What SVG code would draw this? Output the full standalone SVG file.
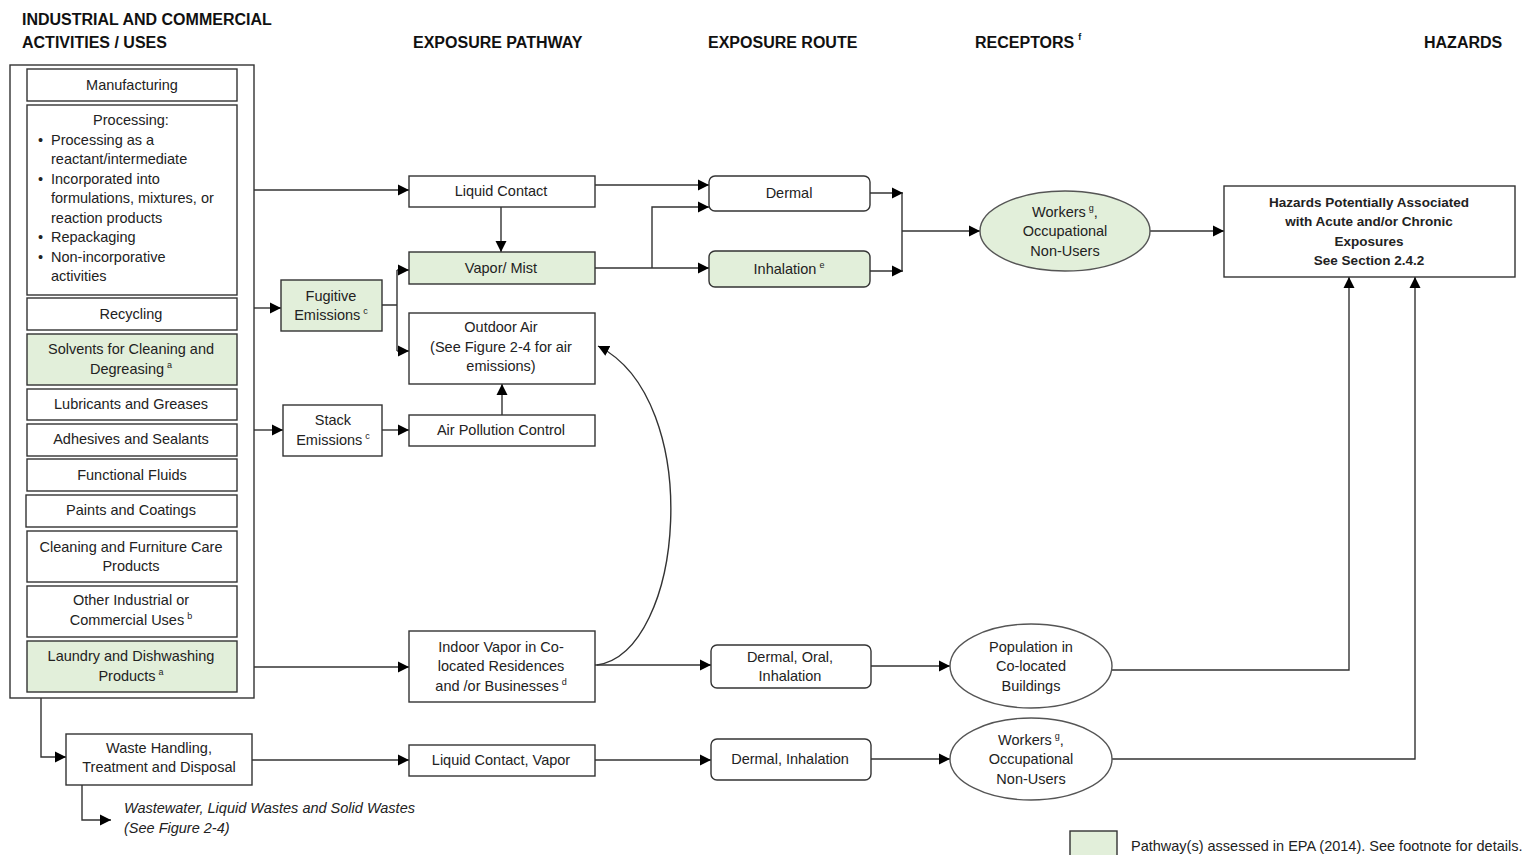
<svg xmlns="http://www.w3.org/2000/svg" width="1526" height="855" viewBox="0 0 1526 855">
<style>
text{font-family:"Liberation Sans",Arial,sans-serif;fill:#222;font-size:14.5px}
.h{font-weight:bold;font-size:16px;fill:#111}
.c{text-anchor:middle}
.b{fill:#fff;stroke:#333;stroke-width:1.4}
.g{fill:#e2efda;stroke:#333;stroke-width:1.4}
.e{fill:#fff;stroke:#555;stroke-width:1.4}
.eg{fill:#e2efda;stroke:#555;stroke-width:1.4}
.sup{font-size:9px}
.hz{font-weight:bold;font-size:13.5px}
.it{font-style:italic}
#conn path{fill:none;stroke:#333;stroke-width:1.4}
#conn path.a{marker-end:url(#arr)}
</style>
<defs>
<marker id="arr" viewBox="0 0 10 10" refX="10" refY="5" markerWidth="11" markerHeight="13" markerUnits="userSpaceOnUse" orient="auto">
<path d="M0,0 L10,5 L0,10 z" fill="#000"/>
</marker>
</defs>
<rect width="1526" height="855" fill="#fff"/>

<g id="headings">
<text class="h" x="22" y="25">INDUSTRIAL AND COMMERCIAL</text>
<text class="h" x="22" y="48">ACTIVITIES / USES</text>
<text class="h" x="413" y="48">EXPOSURE PATHWAY</text>
<text class="h" x="708" y="48">EXPOSURE ROUTE</text>
<text class="h" x="975" y="48">RECEPTORS<tspan class="sup" dx="4" dy="-8">f</tspan></text>
<text class="h" x="1424" y="48">HAZARDS</text>
</g>

<g id="conn">
<path class="a" d="M254,190 H409"/>
<path class="a" d="M254,308 H281"/>
<path class="a" d="M254,430 H283"/>
<path class="a" d="M237,667 H409"/>
<path d="M382,305 H397 M397,270 V351"/>
<path class="a" d="M397,270 H409"/>
<path class="a" d="M397,351 H409"/>
<path class="a" d="M382,430 H409"/>
<path class="a" d="M501,207 V252"/>
<path class="a" d="M502,415 V384"/>
<path class="a" d="M595,185 H709"/>
<path class="a" d="M595,268 H709"/>
<path class="a" d="M652,268 V207 H709"/>
<path class="a" d="M870,193 H903"/>
<path class="a" d="M870,271 H903"/>
<path d="M902,193 V271"/>
<path class="a" d="M902,231 H980"/>
<path class="a" d="M1150,231 H1224"/>
<path class="a" d="M595,665 H711"/>
<path class="a" d="M597,665 C685,652 705,400 598,346"/>
<path class="a" d="M871,666 H950"/>
<path class="a" d="M1112,670 H1349 V277"/>
<path class="a" d="M595,760 H711"/>
<path class="a" d="M871,759 H950"/>
<path class="a" d="M1112,759 H1415 V277"/>
<path class="a" d="M41,698 V757 H66"/>
<path class="a" d="M252,760 H409"/>
<path class="a" d="M82,785 V820 H111"/>
</g>

<g id="uses-container"><rect class="b" x="10" y="65" width="244" height="633"/></g>

<g id="manufacturing"><rect class="b" x="27" y="69" width="210" height="32"/><text class="c" x="132" y="90">Manufacturing</text></g>
<g id="processing"><rect class="b" x="27" y="105" width="210" height="190"/>
<text class="c" x="131" y="125">Processing:</text>
<text x="38" y="145">•</text><text x="51" y="145">Processing as a</text>
<text x="51" y="164">reactant/intermediate</text>
<text x="38" y="184">•</text><text x="51" y="184">Incorporated into</text>
<text x="51" y="203">formulations, mixtures, or</text>
<text x="51" y="223">reaction products</text>
<text x="38" y="242">•</text><text x="51" y="242">Repackaging</text>
<text x="38" y="262">•</text><text x="51" y="262">Non-incorporative</text>
<text x="51" y="281">activities</text>
</g>
<g id="recycling"><rect class="b" x="27" y="298" width="210" height="32"/><text class="c" x="131" y="319">Recycling</text></g>
<g id="solvents"><rect class="g" x="27" y="334" width="210" height="51"/><text class="c" x="131" y="354">Solvents for Cleaning and</text><text class="c" x="131" y="374">Degreasing<tspan class="sup" dx="3" dy="-6">a</tspan></text></g>
<g id="lubricants"><rect class="b" x="27" y="389" width="210" height="31"/><text class="c" x="131" y="409">Lubricants and Greases</text></g>
<g id="adhesives"><rect class="b" x="27" y="424" width="210" height="32"/><text class="c" x="131" y="444">Adhesives and Sealants</text></g>
<g id="fluids"><rect class="b" x="27" y="459" width="210" height="32"/><text class="c" x="132" y="480">Functional Fluids</text></g>
<g id="paints"><rect class="b" x="26" y="495" width="211" height="32"/><text class="c" x="131" y="515">Paints and Coatings</text></g>
<g id="cleaning"><rect class="b" x="27" y="531" width="210" height="51"/><text class="c" x="131" y="552">Cleaning and Furniture Care</text><text class="c" x="131" y="571">Products</text></g>
<g id="other"><rect class="b" x="27" y="586" width="210" height="51"/><text class="c" x="131" y="605">Other Industrial or</text><text class="c" x="131" y="625">Commercial Uses<tspan class="sup" dx="3" dy="-6">b</tspan></text></g>
<g id="laundry"><rect class="g" x="27" y="641" width="210" height="51"/><text class="c" x="131" y="661">Laundry and Dishwashing</text><text class="c" x="131" y="681">Products<tspan class="sup" dx="3" dy="-6">a</tspan></text></g>

<g id="fugitive"><rect class="g" x="281" y="280" width="101" height="51"/><text class="c" x="331" y="301">Fugitive</text><text class="c" x="331" y="320">Emissions<tspan class="sup" dx="3" dy="-6">c</tspan></text></g>
<g id="stack"><rect class="b" x="283" y="405" width="99" height="51"/><text class="c" x="333" y="425">Stack</text><text class="c" x="333" y="445">Emissions<tspan class="sup" dx="3" dy="-6">c</tspan></text></g>

<g id="liquid-contact"><rect class="b" x="409" y="176" width="186" height="31"/><text class="c" x="501" y="196">Liquid Contact</text></g>
<g id="vapor-mist"><rect class="g" x="409" y="252" width="186" height="32"/><text class="c" x="501" y="273">Vapor/ Mist</text></g>
<g id="outdoor-air"><rect class="b" x="409" y="313" width="186" height="71"/><text class="c" x="501" y="332">Outdoor Air</text><text class="c" x="501" y="352">(See Figure 2-4 for air</text><text class="c" x="501" y="371">emissions)</text></g>
<g id="apc"><rect class="b" x="409" y="415" width="186" height="31"/><text class="c" x="501" y="435">Air Pollution Control</text></g>
<g id="indoor-vapor"><rect class="b" x="409" y="631" width="186" height="71"/><text class="c" x="501" y="652">Indoor Vapor in Co-</text><text class="c" x="501" y="671">located Residences</text><text class="c" x="501" y="691">and /or Businesses<tspan class="sup" dx="3" dy="-6">d</tspan></text></g>
<g id="liquid-vapor"><rect class="b" x="409" y="745" width="186" height="31"/><text class="c" x="501" y="765">Liquid Contact, Vapor</text></g>

<g id="dermal"><rect class="b" x="709" y="176" width="161" height="35" rx="6"/><text class="c" x="789" y="198">Dermal</text></g>
<g id="inhalation"><rect class="g" x="709" y="251" width="161" height="36" rx="6"/><text class="c" x="789" y="274">Inhalation<tspan class="sup" dx="3" dy="-6">e</tspan></text></g>
<g id="dermal-oral"><rect class="b" x="711" y="645" width="160" height="43" rx="6"/><text class="c" x="790" y="662">Dermal, Oral,</text><text class="c" x="790" y="681">Inhalation</text></g>
<g id="dermal-inh"><rect class="b" x="711" y="739" width="160" height="41" rx="6"/><text class="c" x="790" y="764">Dermal, Inhalation</text></g>

<g id="workers-top"><ellipse class="eg" cx="1065" cy="231" rx="85" ry="40"/><text class="c" x="1065" y="217">Workers<tspan class="sup" dx="3" dy="-6">g</tspan><tspan dy="6">,</tspan></text><text class="c" x="1065" y="236">Occupational</text><text class="c" x="1065" y="256">Non-Users</text></g>
<g id="population"><ellipse class="e" cx="1031" cy="666" rx="81" ry="42"/><text class="c" x="1031" y="652">Population in</text><text class="c" x="1031" y="671">Co-located</text><text class="c" x="1031" y="691">Buildings</text></g>
<g id="workers-bottom"><ellipse class="e" cx="1031" cy="759" rx="81" ry="41"/><text class="c" x="1031" y="745">Workers<tspan class="sup" dx="3" dy="-6">g</tspan><tspan dy="6">,</tspan></text><text class="c" x="1031" y="764">Occupational</text><text class="c" x="1031" y="784">Non-Users</text></g>

<g id="hazards"><rect class="b" x="1224" y="186" width="291" height="91"/>
<text class="c hz" x="1369" y="207">Hazards Potentially Associated</text>
<text class="c hz" x="1369" y="226">with Acute and/or Chronic</text>
<text class="c hz" x="1369" y="246">Exposures</text>
<text class="c hz" x="1369" y="265">See Section 2.4.2</text>
</g>

<g id="waste"><rect class="b" x="66" y="734" width="186" height="51"/><text class="c" x="159" y="753">Waste Handling,</text><text class="c" x="159" y="772">Treatment and Disposal</text></g>
<g id="waste-note"><text class="it" x="124" y="813">Wastewater, Liquid Wastes and Solid Wastes</text><text class="it" x="124" y="833">(See Figure 2-4)</text></g>

<g id="legend"><rect class="g" x="1070" y="831" width="47" height="30"/><text x="1131" y="851">Pathway(s) assessed in EPA (2014). See footnote for details.</text></g>
</svg>
